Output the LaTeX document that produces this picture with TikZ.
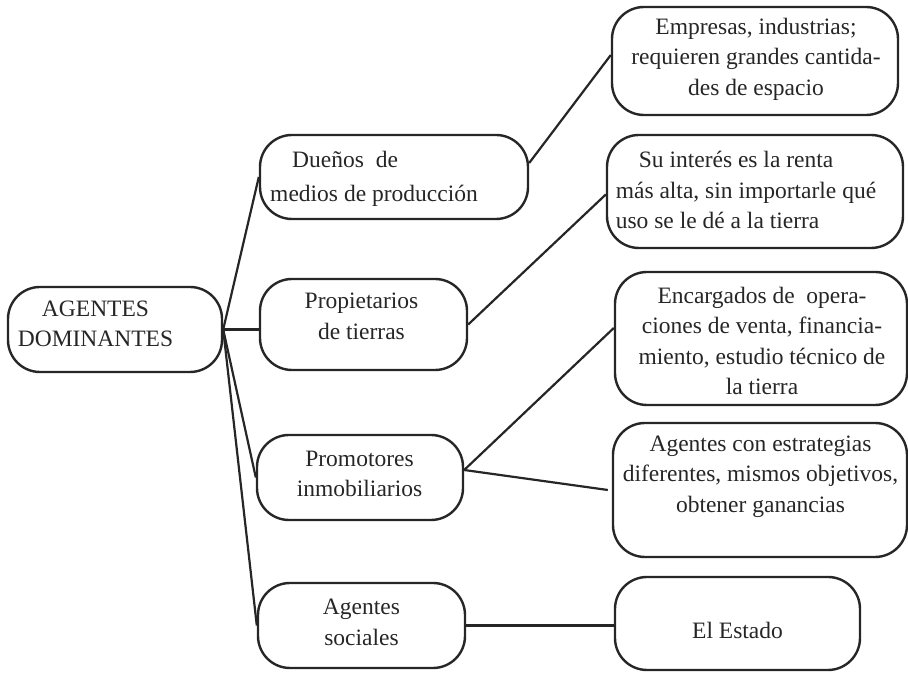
\documentclass[tikz,border=0pt]{standalone}
\usepackage{fontspec}
\setmainfont{Liberation Serif}
\begin{document}
\begin{tikzpicture}[x=1pt,y=1pt,
  box/.style={draw=black!85, line width=2.4pt, rounded corners=32pt, inner sep=0pt},
  txt/.style={font=\fontsize{23.5}{30.5}\selectfont, text=black!85, align=center, inner sep=0pt},
  conn/.style={draw=black!85, line width=2.2pt}]
\useasboundingbox (0,0) rectangle (908,674);
% boxes
\node[box, minimum width=214, minimum height=85] (A) at (115,344.5) {};
\node[box, minimum width=268, minimum height=84] (D) at (394,497) {};
\node[box, minimum width=207, minimum height=91] (P) at (363.5,349.5) {};
\node[box, minimum width=206, minimum height=85] (PR) at (360,196.5) {};
\node[box, minimum width=207, minimum height=85] (AS) at (361.5,48.5) {};
\node[box, minimum width=286, minimum height=108] (E) at (755,613) {};
\node[box, minimum width=296, minimum height=113] (S) at (755,482.5) {};
\node[box, minimum width=292, minimum height=133] (EN) at (761,335.5) {};
\node[box, minimum width=294, minimum height=134] (AE) at (760,184) {};
\node[box, minimum width=245, minimum height=93] (ES) at (737.5,50.5) {};
% texts
\node[txt] (tA) at (95.5,350) {AGENTES\\DOMINANTES};
\node[txt, align=left] (tD) at (374,495) {\hspace*{22pt}Dueños\ \ de\\[3pt]medios de producción};
\node[txt] (tP) at (361.5,357.5) {Propietarios\\de tierras};
\node[txt] (tPR) at (359.5,200) {Promotores\\inmobiliarios};
\node[txt] (tAS) at (361.5,51.5) {Agentes\\sociales};
\node[txt] (tE) at (756,615) {Empresas, industrias;\\requieren grandes cantida-\\des de espacio};
\node[txt, align=left] (tS) at (746,484) {\hspace*{23pt}Su interés es la renta\\más alta, sin importarle qué\\uso se le dé a la tierra};
\node[txt] (tEN) at (762,333) {Encargados de\ \ opera-\\ciones de venta, financia-\\miento, estudio técnico de\\la tierra};
\node[txt] (tAE) at (760.5,197.5) {Agentes con estrategias\\diferentes, mismos objetivos,\\obtener ganancias};
\node[txt] (tES) at (737.5,44) {El Estado};
% connectors
\coordinate (hub) at (A.east);
\draw[conn] (hub) -- (D.west);
\draw[conn] (hub) -- (hub -| P.west);
\draw[conn] (hub) -- (PR.west);
\draw[conn] (hub) -- (AS.west);
\draw[conn] ([yshift=14pt]D.east) -- ([yshift=6pt]E.west);
\draw[conn] (P.east) -- ([yshift=-3pt]S.west);
\coordinate (prout) at ([yshift=7.5pt]PR.east);
\draw[conn] (prout) -- ([yshift=10.5pt]EN.west);
\draw[conn] (prout) -- ([xshift=-4pt]AE.west);
\draw[conn] (AS.east) -- (ES.west |- AS.east);
\end{tikzpicture}
\end{document}
